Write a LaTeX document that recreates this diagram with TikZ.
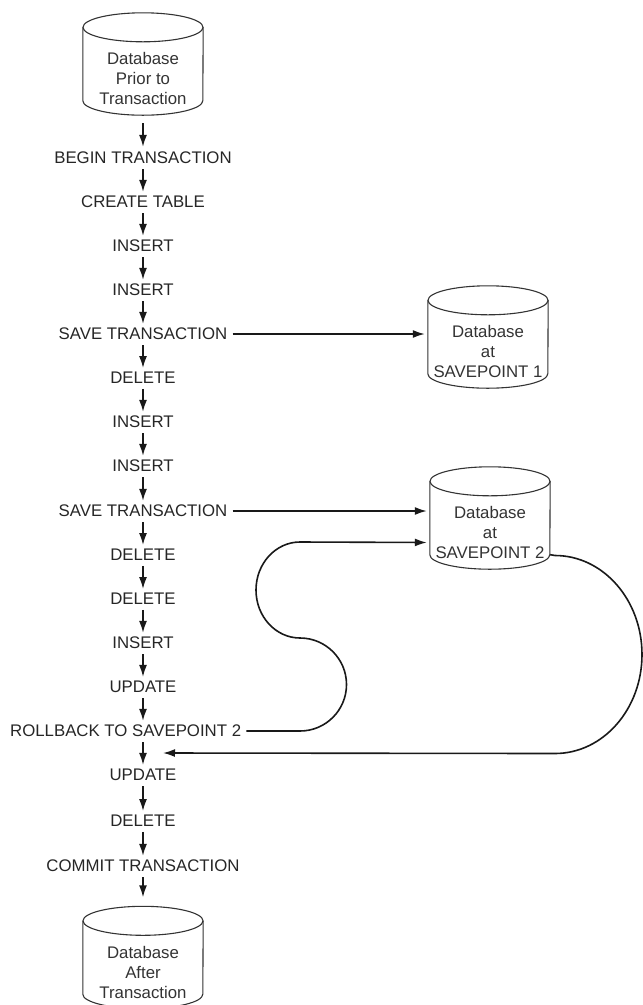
\documentclass[tikz,border=0pt]{standalone}
\usepackage{fontspec}
\setmainfont{Liberation Sans}
\usetikzlibrary{arrows.meta}
\tikzset{
	stmt/.style={inner sep=0pt, text=black!85, font=\fontsize{16.8}{20}\selectfont},
	dbase/.style={inner sep=0pt, minimum width=120pt, minimum height=73pt, align=center,
		text=black!80, font=\fontsize{16.8}{20}\selectfont},
	flow/.style={line width=1.6pt, draw=black!90, -{Latex[length=12pt,width=8pt]}},
	dbline/.style={line width=1.1pt, draw=black!80}
}
% cylinder round a database node (node = body below the lid)
\newcommand\dbcyl[1]{%
	\draw[dbline] ([yshift=14.5pt]#1.north) ellipse (60pt and 14.5pt);
	\draw[dbline] ([yshift=14.5pt]#1.north west) -- ([yshift=14.5pt]#1.south west)
		arc (180:360:60pt and 14.5pt) -- ([yshift=14.5pt]#1.north east);}
\begin{document}
\begin{tikzpicture}[x=1pt,y=1pt]
	\useasboundingbox (0,0) rectangle (643,-1005);
	\clip (0,0) rectangle (643,-1005);
	\node[dbase] (dbprior) at (143,-78.5) {Database\\Prior to\\Transaction};
	\node[dbase] (sp1) at (488,-351.5) {Database\\at\\SAVEPOINT 1};
	\node[dbase] (sp2) at (490,-532.5) {Database\\at\\SAVEPOINT 2};
	\node[dbase] (dbafter) at (143,-972) {Database\\After\\Transaction};
	\dbcyl{dbprior} \dbcyl{sp1} \dbcyl{sp2} \dbcyl{dbafter}
	\node[stmt] (bt) at (143,-158) {BEGIN TRANSACTION};
	\node[stmt] (ct) at (143,-202) {CREATE TABLE};
	\node[stmt] (i1) at (143,-246) {INSERT};
	\node[stmt] (i2) at (143,-290) {INSERT};
	\node[stmt] (sv1) at (143,-334) {SAVE TRANSACTION};
	\node[stmt] (d1) at (143,-378) {DELETE};
	\node[stmt] (i3) at (143,-422) {INSERT};
	\node[stmt] (i4) at (143,-466) {INSERT};
	\node[stmt] (sv2) at (143,-511) {SAVE TRANSACTION};
	\node[stmt] (d2) at (143,-555) {DELETE};
	\node[stmt] (d3) at (143,-599) {DELETE};
	\node[stmt] (i5) at (143,-643) {INSERT};
	\node[stmt] (u1) at (143,-687) {UPDATE};
	\node[stmt, anchor=west] (rb) at (10,-731) {ROLLBACK TO SAVEPOINT 2};
	\node[stmt] (u2) at (143,-775) {UPDATE};
	\node[stmt] (d4) at (143,-821) {DELETE};
	\node[stmt] (cm) at (143,-866) {COMMIT TRANSACTION};
	\coordinate (back) at (163,-753);
	% main flow
	\draw[flow, shorten <=8pt, shorten >=5pt] (dbprior.south) -- (bt.north);
	\foreach \a/\b in {bt/ct,ct/i1,i1/i2,i2/sv1,sv1/d1,d1/i3,i3/i4,i4/sv2,sv2/d2,d2/d3,d3/i5,i5/u1,d4/cm,u2/d4}
		\draw[flow, shorten <=5pt, shorten >=4pt] (\a.south) -- (\b.north);
	\draw[flow, shorten <=5pt, shorten >=4pt] (u1.south) -- (u1.south |- rb.north);
	\draw[flow, shorten <=5pt, shorten >=4pt] (u2.north |- rb.south) -- (u2.north);
	\draw[flow, shorten <=5pt, shorten >=9pt] (cm.south) -- ([yshift=29pt]dbafter.north);
	% savepoints
	\draw[flow, shorten <=5pt, shorten >=3pt] (sv1.east) -- (sv1.east -| sp1.west);
	\draw[flow, shorten <=5pt, shorten >=3pt] (sv2.east) -- (sv2.east -| sp2.west);
	% rollback
	\draw[flow, shorten <=5pt, shorten >=3pt] (rb.east) -- (300,-731) arc (-90:90:46.5pt)
		arc (-90:-270:44pt and 48pt) -- ([yshift=-10pt]sp2.west);
	\draw[flow] ([yshift=14.5pt]sp2.south east) -- (555,-555.5) arc (90:-90:87pt and 99pt) -- (back);
\end{tikzpicture}
\end{document}
